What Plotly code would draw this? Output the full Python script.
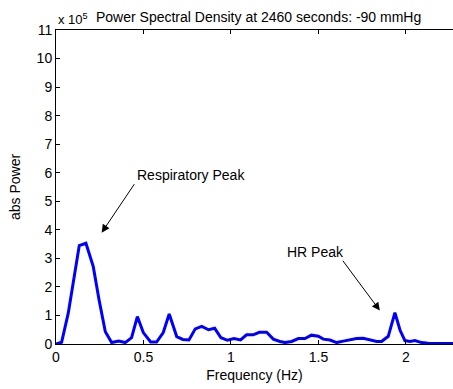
import plotly.graph_objects as go

freq_hz = [0, 0.032, 0.07, 0.133, 0.171, 0.213, 0.246, 0.282, 0.318, 0.358, 0.396, 0.432,
           0.465, 0.499, 0.541, 0.575, 0.613, 0.647, 0.69, 0.725, 0.76, 0.796, 0.833, 0.872,
           0.907, 0.943, 0.98, 1.017, 1.055, 1.089, 1.127, 1.162, 1.204, 1.242, 1.28, 1.309,
           1.347, 1.385, 1.423, 1.46, 1.499, 1.528, 1.566, 1.604, 1.642, 1.68, 1.718, 1.756,
           1.794, 1.833, 1.861, 1.899, 1.937, 1.966, 1.994, 2.023, 2.051, 2.09, 2.127, 2.165,
           2.2, 2.24, 2.28]
power_e5 = [0, 0.06, 1.08, 3.45, 3.53, 2.71, 1.55, 0.43, 0.05, 0.1, 0.05, 0.22,
            0.96, 0.4, 0.07, 0.07, 0.4, 1.05, 0.26, 0.16, 0.14, 0.53, 0.62, 0.5,
            0.55, 0.22, 0.13, 0.19, 0.14, 0.32, 0.32, 0.41, 0.41, 0.17, 0.09, 0.05,
            0.09, 0.19, 0.19, 0.31, 0.27, 0.17, 0.14, 0.05, 0.1, 0.14, 0.19, 0.2,
            0.14, 0.09, 0.09, 0.27, 1.1, 0.49, 0.12, 0.09, 0.12, 0.05, 0.03, 0.02,
            0.02, 0.02, 0.02]
x_ticks = [0, 0.5, 1, 1.5, 2]
x_tick_labels = ["0", "0.5", "1", "1.5", "2"]
y_ticks = list(range(0, 12))
y_tick_labels = [str(v) for v in y_ticks]

FONT = "Liberation Sans, Arial, sans-serif"

fig = go.Figure()
fig.add_trace(go.Scatter(x=freq_hz, y=power_e5, mode="lines",
                         line=dict(color="#0000ff", width=3), hoverinfo="skip"))

axis_common = dict(showline=True, linecolor="black", linewidth=1, ticks="inside",
                   ticklen=4, tickcolor="black", showgrid=False, zeroline=False,
                   tickfont=dict(family=FONT, size=14, color="black"))

fig.update_layout(
    width=453, height=389,
    margin=dict(l=56, r=0, t=30, b=45),
    paper_bgcolor="white", plot_bgcolor="white",
    showlegend=False,
    xaxis=dict(range=[0, 2.269], tickvals=x_ticks, ticktext=x_tick_labels,
               mirror="ticks",
               title=dict(text="Frequency (Hz)", font=dict(family=FONT, size=14, color="black"),
                          standoff=6),
               **axis_common),
    yaxis=dict(range=[0, 11], tickvals=y_ticks, ticktext=y_tick_labels,
               title=dict(text="abs Power", font=dict(family=FONT, size=14, color="black"),
                          standoff=12),
               **axis_common),
)

annos = [
    dict(x=0, y=1.0, xref="paper", yref="paper", xanchor="left", yanchor="bottom",
         text="x 10<sup>5</sup>", showarrow=False, yshift=1,
         font=dict(family=FONT, size=13, color="black")),
    dict(x=0.51, y=1.0, xref="paper", yref="paper", xanchor="center", yanchor="bottom",
         text="Power Spectral Density at 2460 seconds: -90 mmHg", showarrow=False, yshift=3,
         font=dict(family=FONT, size=14, color="black")),
    dict(x=0.45, y=5.92, xref="x", yref="y", xanchor="left", yanchor="middle",
         text="Respiratory Peak", showarrow=False,
         font=dict(family=FONT, size=14, color="black")),
    dict(x=0.261, y=3.9, xref="x", yref="y", ax=0.453, ay=5.65, axref="x", ayref="y",
         text="", showarrow=True, arrowhead=2, arrowsize=1.6, arrowwidth=1, arrowcolor="black"),
    dict(x=1.31, y=3.22, xref="x", yref="y", xanchor="left", yanchor="middle",
         text="HR Peak", showarrow=False,
         font=dict(family=FONT, size=14, color="black")),
    dict(x=1.851, y=1.17, xref="x", yref="y", ax=1.633, ay=2.97, axref="x", ayref="y",
         text="", showarrow=True, arrowhead=2, arrowsize=1.6, arrowwidth=1, arrowcolor="black"),
]
fig.update_layout(annotations=annos)

fig.write_html("out.html")
